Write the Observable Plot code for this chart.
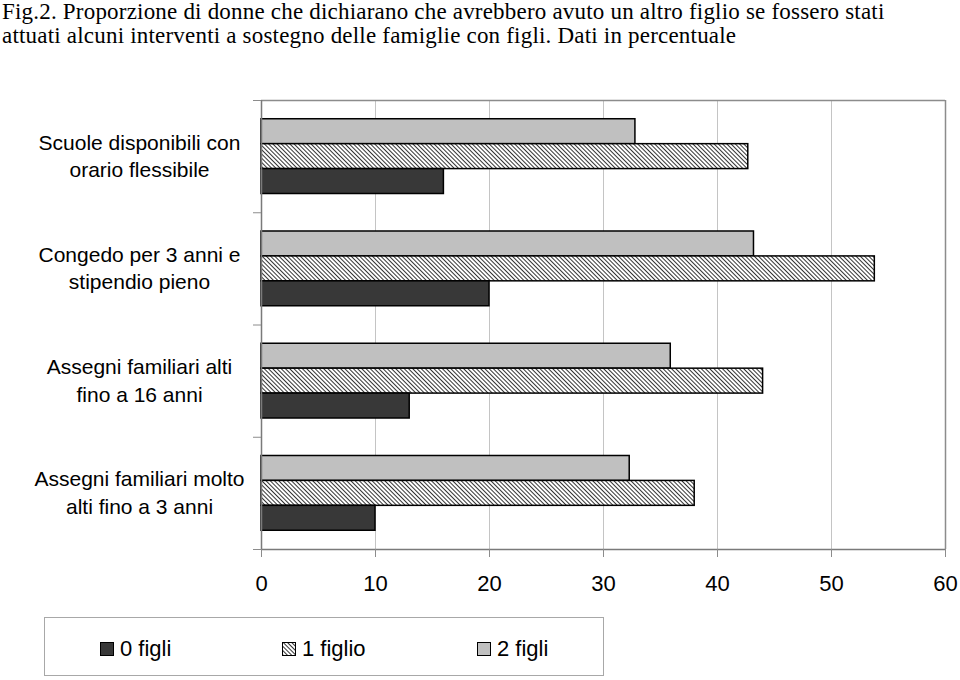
<!DOCTYPE html>
<html>
<head>
<meta charset="utf-8">
<script src="https://cdn.jsdelivr.net/npm/d3@7"></script>
<script src="https://cdn.jsdelivr.net/npm/@observablehq/plot@0.6"></script>
<style>
  html, body { margin: 0; padding: 0; background: #fff; }
  #page { position: relative; width: 960px; height: 680px; overflow: hidden; }
  #title { position: absolute; left: 2px; top: 0; font-family: "Liberation Serif", "Times New Roman", serif; font-size: 23px; letter-spacing: 0.2px; line-height: 24px; white-space: nowrap; color: #000; }
  #chart { position: absolute; left: 0; top: 50px; }
  #legend { position: absolute; left: 44px; top: 617px; width: 560px; height: 59px; border: 1px solid #a8a8a8; box-sizing: border-box; font-family: "Liberation Sans", Arial, sans-serif; font-size: 22px; color: #000; }
  .item { position: absolute; top: 18px; display: flex; align-items: center; height: 26px; }
  .item svg { margin-right: 6px; }
</style>
</head>
<body>
<div id="page">
  <div id="title">Fig.2. Proporzione di donne che dichiarano che avrebbero avuto un altro figlio se fossero stati<br>attuati alcuni interventi a sostegno delle famiglie con figli. Dati in percentuale</div>
  <div id="chart"></div>
  <div id="legend"></div>
</div>
<script>
// ---- data ----
const categories = [
  "Scuole disponibili con orario flessibile",
  "Congedo per 3 anni e stipendio pieno",
  "Assegni familiari alti fino a 16 anni",
  "Assegni familiari molto alti fino a 3 anni"
];
const categoryLabels = [
  "Scuole disponibili con\norario flessibile",
  "Congedo per 3 anni e\nstipendio pieno",
  "Assegni familiari alti\nfino a 16 anni",
  "Assegni familiari molto\nalti fino a 3 anni"
];
const seriesNames = ["2 figli", "1 figlio", "0 figli"]; // top-to-bottom order in each group
const legendOrder = ["0 figli", "1 figlio", "2 figli"];
const values0figli = [16.0, 20.0, 13.0, 10.0];
const values1figlio = [42.7, 53.8, 44.0, 38.0];
const values2figli = [32.8, 43.2, 35.9, 32.3];
const xTicks = [0, 10, 20, 30, 40, 50, 60];

const seriesValues = { "2 figli": values2figli, "1 figlio": values1figlio, "0 figli": values0figli };
const fills = { "2 figli": "#c0c0c0", "1 figlio": "url(#hatch)", "0 figli": "#383838" };

const rows = categories.flatMap((cat, ci) =>
  seriesNames.map((s, si) => ({ cat, ci, series: s, si, value: seriesValues[s][ci] }))
);

// band layout within each category (fractions of a category slot)
const BH = 0.222;
const PAD = (1 - 3 * BH) / 2;

const svg = Plot.plot({
  width: 960,
  height: 560,
  marginTop: 50,
  marginBottom: 61,
  marginLeft: 261,
  marginRight: 15,
  style: { fontFamily: "'Liberation Sans', Arial, sans-serif", fontSize: "21px", color: "#000", background: "transparent" },
  x: { domain: [0, 60], label: null },
  y: { domain: [0, categories.length], reverse: true, label: null },
  color: { domain: seriesNames, range: seriesNames.map(s => fills[s]) },
  marks: [
    Plot.gridX({ ticks: xTicks.slice(1, -1), stroke: "#c4c4c4", strokeOpacity: 1, strokeWidth: 1 }),
    Plot.ruleY([0], { stroke: "#8c8c8c", strokeWidth: 1.5 }),
    Plot.ruleX([60], { stroke: "#8c8c8c", strokeWidth: 1.5 }),
    Plot.ruleY([categories.length], { stroke: "#7a7a7a", strokeWidth: 1.5 }),
    Plot.rect(rows, {
      x1: 0,
      x2: "value",
      y1: d => d.ci + PAD + d.si * BH,
      y2: d => d.ci + PAD + (d.si + 1) * BH,
      fill: "series",
      stroke: "#000",
      strokeWidth: 1.5
    }),
    Plot.ruleX([0], { stroke: "#7a7a7a", strokeWidth: 1.5 }),
    Plot.axisX({ ticks: xTicks, tickSize: 8, tickPadding: 18, fontSize: 22, stroke: "#8c8c8c", label: null }),
    Plot.axisY({ ticks: d3.range(categories.length + 1), tickSize: 8, tickFormat: () => "", stroke: "#8c8c8c", label: null }),
    Plot.axisY({
      ticks: categories.map((c, i) => i + 0.5),
      tickSize: 0,
      tickPadding: 122,
      tickFormat: v => categoryLabels[Math.floor(v)],
      textAnchor: "middle",
      fontSize: 21,
      lineHeight: 1.3,
      dy: -2,
      label: null
    })
  ]
});

d3.select(svg).insert("defs", ":first-child").html(
  '<pattern id="hatch" width="3" height="3" patternUnits="userSpaceOnUse" patternTransform="rotate(-45)">' +
  '<rect width="3" height="3" fill="#fff"/>' +
  '<line x1="0" y1="0" x2="0" y2="3" stroke="#000" stroke-width="1.6"/></pattern>'
);
document.getElementById("chart").appendChild(svg);

// ---- legend ----
const legendLeft = { "0 figli": 55, "1 figlio": 237, "2 figli": 432 };
const legend = d3.select("#legend");
legendOrder.forEach(s => {
  const item = legend.append("div").attr("class", "item").style("left", legendLeft[s] + "px");
  const sw = item.append("svg").attr("width", 14).attr("height", 14);
  if (s === "1 figlio") {
    sw.append("defs").html(
      '<pattern id="hatchLegend" width="3" height="3" patternUnits="userSpaceOnUse" patternTransform="rotate(-45)">' +
      '<rect width="3" height="3" fill="#fff"/>' +
      '<line x1="0" y1="0" x2="0" y2="3" stroke="#000" stroke-width="1.6"/></pattern>'
    );
  }
  sw.append("rect").attr("x", 0.5).attr("y", 0.5).attr("width", 13).attr("height", 13)
    .attr("fill", s === "1 figlio" ? "url(#hatchLegend)" : fills[s])
    .attr("stroke", "#000").attr("stroke-width", 1);
  item.append("span").text(s);
});
</script>
</body>
</html>
